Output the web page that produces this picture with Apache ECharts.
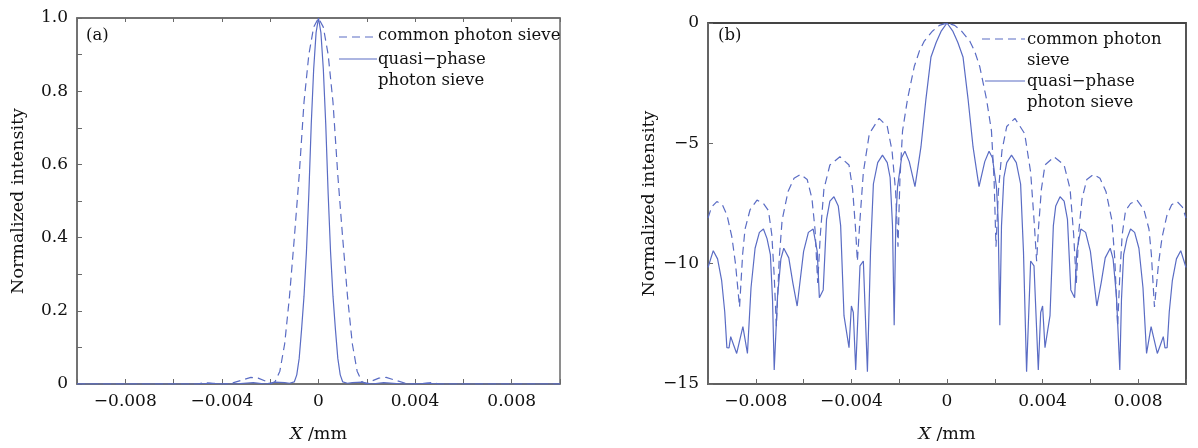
<!DOCTYPE html>
<html lang="en">
<head>
  <meta charset="UTF-8">
  <title>Photon sieve intensity</title>
  <style type="text/css">
    * { margin: 0; padding: 0; }
    html, body { width: 100%; height: 100%; overflow: hidden; background: #fff; }
    #main { width: 1198px; height: 448px; }
  </style>
  <script type="text/javascript" src="https://cdn.jsdelivr.net/npm/echarts@6/dist/echarts.min.js"></script>
</head>
<body>
<div id="main"></div>
<script type="text/javascript">
  // (a) linear intensity
  var commonLinX = [-0.0100, -0.0060, -0.0050, -0.0047, -0.0044, -0.0040, -0.0036, -0.0032, -0.0028, -0.0025,
    -0.0022, -0.0020, -0.0018, -0.0016, -0.0014, -0.0012, -0.0010, -0.0008, -0.0006, -0.0004, -0.0002, 0,
    0.0002, 0.0004, 0.0006, 0.0008, 0.0010, 0.0012, 0.0014, 0.0016, 0.0018, 0.0020, 0.0022, 0.0025, 0.0028,
    0.0032, 0.0036, 0.0040, 0.0044, 0.0047, 0.0050, 0.0060, 0.0100];
  var commonLinY = [0, 0, 0, 0.004, 0.002, 0, 0.002, 0.01, 0.018, 0.016,
    0.008, 0, 0.006, 0.035, 0.11, 0.24, 0.40, 0.57, 0.77, 0.90, 0.975, 1,
    0.975, 0.90, 0.77, 0.57, 0.40, 0.24, 0.11, 0.035, 0.006, 0, 0.008, 0.016, 0.018,
    0.01, 0.002, 0, 0.002, 0.004, 0, 0, 0];
  var quasiLinX = [-0.0100, -0.0050, -0.0045, -0.0040, -0.0035, -0.0027, -0.0022, -0.0018, -0.0014, -0.0012,
    -0.0010, -0.0009, -0.0008, -0.0007, -0.0006, -0.0005, -0.0004, -0.0003, -0.0002, -0.0001, 0,
    0.0001, 0.0002, 0.0003, 0.0004, 0.0005, 0.0006, 0.0007, 0.0008, 0.0009, 0.0010, 0.0012, 0.0014,
    0.0018, 0.0022, 0.0027, 0.0035, 0.0040, 0.0045, 0.0050, 0.0100];
  var quasiLinY = [0, 0, 0.002, 0, 0, 0.004, 0, 0.005, 0.004, 0.002,
    0.006, 0.025, 0.07, 0.15, 0.24, 0.36, 0.52, 0.71, 0.86, 0.96, 1,
    0.96, 0.86, 0.71, 0.52, 0.36, 0.24, 0.15, 0.07, 0.025, 0.006, 0.002, 0.004,
    0.005, 0, 0.004, 0, 0, 0.002, 0, 0];

  // (b) logarithmic intensity
  var commonLogX = [-0.0100, -0.00985, -0.00963, -0.0094, -0.0092, -0.0090, -0.00885, -0.00868,
    -0.00855, -0.00845, -0.00824, -0.00795, -0.00768, -0.00747, -0.00733, -0.00723, -0.00714,
    -0.00702, -0.0069, -0.00665, -0.0064, -0.00613, -0.00585, -0.00565, -0.00552, -0.00541,
    -0.0053, -0.00515, -0.0049, -0.00448, -0.0041, -0.00395, -0.00383, -0.00375,
    -0.00365, -0.0035, -0.00325, -0.00284, -0.0025, -0.0023, -0.00215, -0.00205,
    -0.00197, -0.00186, -0.00165, -0.00137, -0.00115, -0.00095, -0.0006, -0.00032, 0,
    0.00032, 0.0006, 0.00095, 0.00115, 0.00137, 0.00165, 0.00186, 0.00197,
    0.00205, 0.00215, 0.0023, 0.0025, 0.00284, 0.00325, 0.0035, 0.00365,
    0.00375, 0.00383, 0.00395, 0.0041, 0.00448, 0.0049, 0.00515, 0.0053,
    0.00541, 0.00552, 0.00565, 0.00585, 0.00613, 0.0064, 0.00665, 0.0069,
    0.00702, 0.00714, 0.00723, 0.00733, 0.00747, 0.00768, 0.00795, 0.00824,
    0.00845, 0.00855, 0.00868, 0.00885, 0.0090, 0.0092, 0.0094, 0.00963, 0.00985, 0.0100];
  var commonLogY = [-8.1, -7.65, -7.42, -7.55, -8.0, -8.9, -10.0, -11.8,
    -9.6, -8.56, -7.76, -7.36, -7.5, -7.8, -8.8, -10.5, -12.6,
    -9.8, -8.2, -7.0, -6.45, -6.29, -6.5, -7.3, -8.6, -10.8,
    -8.8, -6.9, -5.9, -5.56, -5.9, -6.9, -8.5, -9.9,
    -8.3, -6.2, -4.6, -3.96, -4.3, -5.3, -7.0, -9.3,
    -6.5, -4.48, -3.15, -1.81, -1.15, -0.75, -0.33, -0.1, 0,
    -0.1, -0.33, -0.75, -1.15, -1.81, -3.15, -4.48, -6.5,
    -9.3, -7.0, -5.3, -4.3, -3.96, -4.6, -6.2, -8.3,
    -9.9, -8.5, -6.9, -5.9, -5.56, -5.9, -6.9, -8.8,
    -10.8, -8.6, -7.3, -6.5, -6.29, -6.45, -7.0, -8.2,
    -9.8, -12.6, -10.5, -8.8, -7.8, -7.5, -7.36, -7.76,
    -8.56, -9.6, -11.8, -10.0, -8.9, -8.0, -7.55, -7.42, -7.65, -8.1];
  var quasiLogX = [-0.0100, -0.00978, -0.0096, -0.00943, -0.0093, -0.00921, -0.00912, -0.00905, -0.00892, -0.0088,
    -0.00854, -0.00835, -0.0082, -0.00803, -0.00785, -0.00768, -0.00753, -0.00739, -0.0073, -0.00723,
    -0.00709, -0.00695, -0.00683, -0.00662, -0.00645, -0.00627, -0.0060, -0.0058, -0.0056, -0.00543,
    -0.00534, -0.00518, -0.00504, -0.0049, -0.00473, -0.00455, -0.00445, -0.00431, -0.0041, -0.0040,
    -0.00392, -0.00382, -0.00364, -0.0035, -0.00333, -0.0032, -0.00308, -0.0029, -0.0027, -0.0025,
    -0.00238, -0.00228, -0.00221, -0.00214, -0.00207, -0.0019, -0.00176, -0.00158, -0.00134, -0.00123,
    -0.00109, -0.00088, -0.00067, -0.00045, -0.00025, 0,
    0.00025, 0.00045, 0.00067, 0.00088, 0.00109, 0.00123, 0.00134, 0.00158, 0.00176, 0.0019,
    0.00207, 0.00214, 0.00221, 0.00228, 0.00238, 0.0025, 0.0027, 0.0029, 0.00308, 0.0032,
    0.00333, 0.0035, 0.00364, 0.00382, 0.00392, 0.0040, 0.0041, 0.00431, 0.00445, 0.00455,
    0.00473, 0.0049, 0.00504, 0.00518, 0.00534, 0.00543, 0.0056, 0.0058, 0.0060, 0.00627,
    0.00645, 0.00662, 0.00683, 0.00695, 0.00709, 0.00723, 0.0073, 0.00739, 0.00753, 0.00768,
    0.00785, 0.00803, 0.0082, 0.00835, 0.00854, 0.0088, 0.00892, 0.00905, 0.00912, 0.00921,
    0.0093, 0.00943, 0.0096, 0.00978, 0.0100];
  var quasiLogY = [-10.16, -9.46, -9.8, -10.69, -12.0, -13.49, -13.5, -13.03, -13.4, -13.73,
    -12.62, -13.73, -11.0, -9.36, -8.7, -8.56, -8.96, -9.62, -11.5, -14.42,
    -11.36, -9.8, -9.36, -9.76, -10.8, -11.76, -9.49, -8.7, -8.56, -9.49,
    -11.42, -11.09, -8.16, -7.4, -7.22, -7.6, -8.42, -12.16, -13.49, -11.76,
    -12.03, -14.42, -10.09, -9.89, -14.49, -9.5, -6.69, -5.8, -5.49, -5.8,
    -6.42, -8.43, -12.56, -8.16, -6.82, -5.6, -5.33, -5.76, -6.8, -6.08,
    -5.15, -3.15, -1.41, -0.8, -0.35, 0,
    -0.35, -0.8, -1.41, -3.15, -5.15, -6.08, -6.8, -5.76, -5.33, -5.6,
    -6.82, -8.16, -12.56, -8.43, -6.42, -5.8, -5.49, -5.8, -6.69, -9.5,
    -14.49, -9.89, -10.09, -14.42, -12.03, -11.76, -13.49, -12.16, -8.42, -7.6,
    -7.22, -7.4, -8.16, -11.09, -11.42, -9.49, -8.56, -8.7, -9.49, -11.76,
    -10.8, -9.76, -9.36, -9.8, -11.36, -14.42, -11.5, -9.62, -8.96, -8.56,
    -8.7, -9.36, -11.0, -13.73, -12.62, -13.73, -13.4, -13.03, -13.5, -13.49,
    -12.0, -10.69, -9.8, -9.46, -10.16];

  var seriesNames = ['common photon sieve', 'quasi\u2212phase photon sieve'];

  var lineColor = '#5a6cc4';
  var axisColor = '#6a6a6a';
  var textColor = '#111';
  var font = 'DejaVu Serif';
  var legendFont = '16.5px "DejaVu Serif"';

  function zip(xs, ys) {
    return xs.map(function (x, i) { return [x, ys[i]]; });
  }
  function minus(s) { return s.replace('-', '\u2212'); }

  function xAxisFor(gi) {
    return {
      type: 'value', gridIndex: gi, min: -0.01, max: 0.01, interval: 0.002,
      axisLine: { onZero: false, lineStyle: { color: axisColor, width: 1.5 } },
      axisTick: { inside: true, length: 5, lineStyle: { color: axisColor } },
      splitLine: { show: false },
      axisLabel: {
        margin: 9, fontFamily: font, fontSize: 17, color: textColor,
        formatter: function (v) {
          var k = Math.round(v / 0.002);
          if (k % 2 !== 0) return '';
          if (k === 0) return '0';
          return minus((k * 0.002).toFixed(3));
        }
      },
      name: '{i|X} /mm', nameLocation: 'middle', nameGap: 41,
      nameTextStyle: {
        fontFamily: font, fontSize: 17.5, color: textColor,
        rich: { i: { fontFamily: font, fontSize: 17.5, fontStyle: 'italic', color: textColor } }
      }
    };
  }

  function yAxisFor(gi, min, max, step, fmt) {
    return {
      type: 'value', gridIndex: gi, min: min, max: max, interval: step,
      axisLine: { show: true, onZero: false, lineStyle: { color: axisColor, width: 1.5 } },
      axisTick: { show: true, inside: true, length: 5, lineStyle: { color: axisColor } },
      splitLine: { show: false },
      axisLabel: { margin: 9, fontFamily: font, fontSize: 17, color: textColor, formatter: fmt },
      name: 'Normalized intensity', nameLocation: 'middle', nameGap: 50,
      nameTextStyle: { fontFamily: font, fontSize: 17.5, color: textColor }
    };
  }

  var chart = echarts.init(document.getElementById('main'));
  var option = {
    animation: false,
    backgroundColor: '#fff',
    grid: [
      { left: 77, top: 18, width: 483, height: 381, show: true, borderColor: axisColor, borderWidth: 1.5 },
      { left: 708, top: 23, width: 478, height: 375, show: true, borderColor: '#444', borderWidth: 1.8 }
    ],
    xAxis: [
      xAxisFor(0),
      xAxisFor(1),
      {
        type: 'value', gridIndex: 0, position: 'top', min: -0.01, max: 0.01, interval: 0.002,
        axisLine: { onZero: false, lineStyle: { color: axisColor, width: 1.5 } },
        axisTick: { inside: true, length: 4, lineStyle: { color: axisColor } },
        axisLabel: { show: false }, splitLine: { show: false }
      }
    ],
    yAxis: [
      yAxisFor(0, 0, 1, 0.1, function (v) {
        var k = Math.round(v * 10);
        if (k % 2 !== 0) return '';
        return k === 0 ? '0' : (k / 10).toFixed(1);
      }),
      yAxisFor(1, -15, 0, 5, function (v) { return v === 0 ? '0' : minus(String(v)); })
    ],
    series: [
      {
        name: seriesNames[0], type: 'line', xAxisIndex: 0, yAxisIndex: 0, symbol: 'none',
        lineStyle: { color: lineColor, width: 1.2, type: [8, 5] },
        data: zip(commonLinX, commonLinY)
      },
      {
        name: seriesNames[1], type: 'line', xAxisIndex: 0, yAxisIndex: 0, symbol: 'none',
        lineStyle: { color: lineColor, width: 1.2 },
        data: zip(quasiLinX, quasiLinY)
      },
      {
        name: seriesNames[0], type: 'line', xAxisIndex: 1, yAxisIndex: 1, symbol: 'none',
        lineStyle: { color: lineColor, width: 1.2, type: [8, 5] },
        data: zip(commonLogX, commonLogY)
      },
      {
        name: seriesNames[1], type: 'line', xAxisIndex: 1, yAxisIndex: 1, symbol: 'none',
        lineStyle: { color: lineColor, width: 1.2 },
        data: zip(quasiLogX, quasiLogY)
      }
    ],
    graphic: [
      // panel labels
      { type: 'text', left: 86, top: 27, style: { text: '(a)', font: legendFont, fill: textColor } },
      { type: 'text', left: 718, top: 27, style: { text: '(b)', font: legendFont, fill: textColor } },
      // legend (a)
      { type: 'line', shape: { x1: 339, y1: 37, x2: 377, y2: 37 }, style: { stroke: lineColor, lineWidth: 1.2, lineDash: [8, 5] } },
      { type: 'text', left: 378, top: 27, style: { text: 'common photon sieve', font: legendFont, fill: textColor } },
      { type: 'line', shape: { x1: 339, y1: 59, x2: 377, y2: 59 }, style: { stroke: lineColor, lineWidth: 1.2 } },
      { type: 'text', left: 378, top: 49, style: { text: 'quasi\u2212phase\nphoton sieve', font: legendFont, fill: textColor, lineHeight: 21 } },
      // legend (b)
      { type: 'line', shape: { x1: 982, y1: 39, x2: 1025, y2: 39 }, style: { stroke: lineColor, lineWidth: 1.2, lineDash: [8, 5] } },
      { type: 'text', left: 1027, top: 29, style: { text: 'common photon\nsieve', font: legendFont, fill: textColor, lineHeight: 21 } },
      { type: 'line', shape: { x1: 985, y1: 81, x2: 1025, y2: 81 }, style: { stroke: lineColor, lineWidth: 1.2 } },
      { type: 'text', left: 1027, top: 71, style: { text: 'quasi\u2212phase\nphoton sieve', font: legendFont, fill: textColor, lineHeight: 21 } }
    ]
  };
  chart.setOption(option);
</script>
</body>
</html>
